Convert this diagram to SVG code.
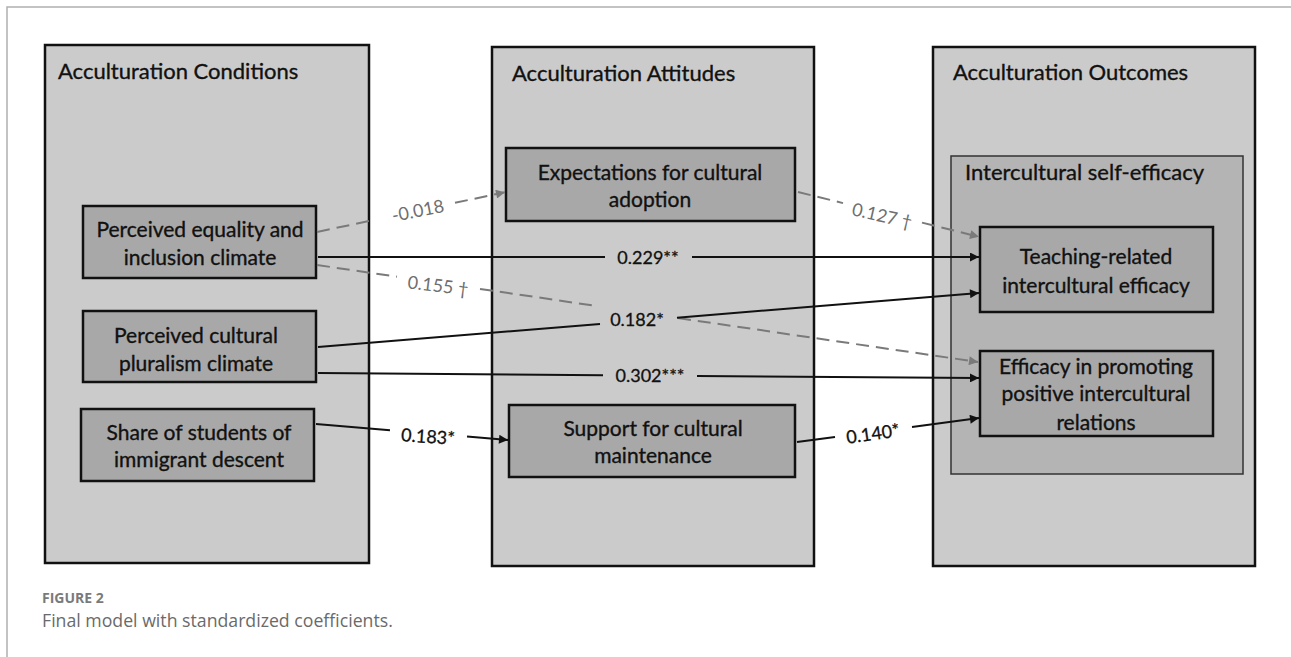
<svg xmlns="http://www.w3.org/2000/svg" width="1291" height="657" viewBox="0 0 1291 657">
<defs>
<style>
.frame{fill:none;stroke:#b0b0b0;stroke-width:1.5}
.panel{fill:#cbcbcb;stroke:#111;stroke-width:2.5}
.inner{fill:#b4b4b4;stroke:#333;stroke-width:1.5}
.node{fill:#a8a8a8;stroke:#111;stroke-width:2.5}
.title{font-family:Lato,"Liberation Sans",sans-serif;font-size:22px;fill:#111;stroke:#111;stroke-width:0.35}
.nt{font-family:Lato,"Liberation Sans",sans-serif;font-size:21px;fill:#111;stroke:#111;stroke-width:0.35;text-anchor:middle}
.solid{fill:none;stroke:#111;stroke-width:2}
.dash{fill:none;stroke:#7a7a7a;stroke-width:2;stroke-dasharray:13 7}
.lb{font-family:Lato,"Liberation Sans",sans-serif;font-size:18px;fill:#111;stroke:#111;stroke-width:0.3;text-anchor:middle}
.lg{font-family:Lato,"Liberation Sans",sans-serif;font-size:18px;fill:#6f6f6f;text-anchor:middle}
.cap1{font-family:"Open Sans","Liberation Sans",sans-serif;font-size:14px;font-weight:bold;fill:#7a7a7a}
.cap2{font-family:"Open Sans","Liberation Sans",sans-serif;font-size:17.7px;fill:#6a6a6a}
</style>
<marker id="ab" viewBox="0 0 10 10" refX="10" refY="5" markerWidth="10" markerHeight="9" markerUnits="userSpaceOnUse" orient="auto"><path d="M0,0L10,5L0,10z" fill="#111"/></marker>
<marker id="ag" viewBox="0 0 10 10" refX="10" refY="5" markerWidth="10" markerHeight="9" markerUnits="userSpaceOnUse" orient="auto"><path d="M0,0L10,5L0,10z" fill="#7a7a7a"/></marker>
</defs>
<rect width="1291" height="657" fill="#fff"/>
<path class="frame" d="M7,657V7H1291"/>

<g id="panel-conditions">
<rect class="panel" x="45" y="45" width="324" height="518"/>
<text class="title" x="58" y="79">Acculturation Conditions</text>
</g>
<g id="panel-attitudes">
<rect class="panel" x="492" y="47" width="322" height="519"/>
<text class="title" x="512" y="81">Acculturation Attitudes</text>
</g>
<g id="panel-outcomes">
<rect class="panel" x="933" y="47" width="322" height="519"/>
<text class="title" x="953" y="80">Acculturation Outcomes</text>
</g>
<g id="panel-efficacy">
<rect class="inner" x="951" y="156" width="292" height="318"/>
<text class="title" x="965" y="180">Intercultural self-efficacy</text>
</g>

<g id="node-equality">
<rect class="node" x="83" y="206" width="233" height="72"/>
<text class="nt" x="200" y="237">Perceived equality and</text>
<text class="nt" x="200" y="265">inclusion climate</text>
</g>
<g id="node-pluralism">
<rect class="node" x="83" y="311" width="233" height="71"/>
<text class="nt" x="196" y="343">Perceived cultural</text>
<text class="nt" x="196" y="371">pluralism climate</text>
</g>
<g id="node-share">
<rect class="node" x="81" y="409" width="233" height="72"/>
<text class="nt" x="199" y="440">Share of students of</text>
<text class="nt" x="199" y="467">immigrant descent</text>
</g>
<g id="node-expectations">
<rect class="node" x="506" y="148" width="289" height="73"/>
<text class="nt" x="650" y="180">Expectations for cultural</text>
<text class="nt" x="650" y="207">adoption</text>
</g>
<g id="node-support">
<rect class="node" x="509" y="405" width="286" height="72"/>
<text class="nt" x="653" y="436">Support for cultural</text>
<text class="nt" x="653" y="463">maintenance</text>
</g>
<g id="node-teaching">
<rect class="node" x="980" y="227" width="233" height="85"/>
<text class="nt" x="1096" y="264">Teaching-related</text>
<text class="nt" x="1096" y="293">intercultural efficacy</text>
</g>
<g id="node-promoting">
<rect class="node" x="980" y="351" width="233" height="85"/>
<text class="nt" x="1096" y="374">Efficacy in promoting</text>
<text class="nt" x="1096" y="401">positive intercultural</text>
<text class="nt" x="1096" y="430">relations</text>
</g>

<g id="connectors">
<path class="dash" d="M317,232L375,219.7"/>
<path class="dash" d="M455,202.8L505,192.2" marker-end="url(#ag)"/>
<text class="lg" transform="translate(418,211) rotate(-11)" y="6">-0.018</text>
<path class="solid" d="M318,257H605"/>
<path class="solid" d="M692,257H979" marker-end="url(#ab)"/>
<text class="lb" x="648" y="264">0.229**</text>
<path class="dash" d="M317,265L397,276.7"/>
<path class="dash" d="M480,288.9L598,306.2"/>
<path class="dash" d="M678,318L978,362" marker-end="url(#ag)"/>
<text class="lg" transform="translate(438,286) rotate(7)" y="6">0.155 †</text>
<path class="solid" d="M318,347L600,324"/>
<path class="solid" d="M677,317.7L979,293" marker-end="url(#ab)"/>
<text class="lb" x="637" y="326">0.182*</text>
<path class="solid" d="M318,373L603,375.2"/>
<path class="solid" d="M697,375.9L979,378" marker-end="url(#ab)"/>
<text class="lb" x="650" y="382">0.302***</text>
<path class="solid" d="M316,424L390,430.2"/>
<path class="solid" d="M467,436.5L508,440" marker-end="url(#ab)"/>
<text class="lb" transform="translate(428,437) rotate(4)" y="6">0.183*</text>
<path class="solid" d="M797,442L835,437"/>
<path class="solid" d="M912,427L979,418" marker-end="url(#ab)"/>
<text class="lb" transform="translate(873,434) rotate(-8)" y="6">0.140*</text>
<path class="dash" d="M798,192L843,203.1"/>
<path class="dash" d="M922,222.6L979,236.8" marker-end="url(#ag)"/>
<text class="lg" transform="translate(882,216) rotate(13)" y="6">0.127 †</text>
</g>

<text class="cap1" x="42" y="603">FIGURE 2</text>
<text class="cap2" x="42" y="627">Final model with standardized coefficients.</text>
</svg>
